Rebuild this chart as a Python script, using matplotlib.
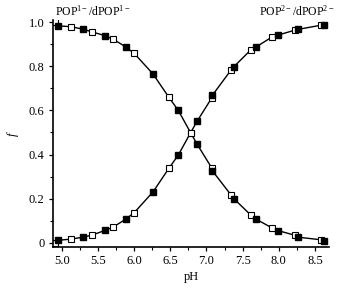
import numpy as np
import matplotlib
matplotlib.use('Agg')
import matplotlib.pyplot as plt
from matplotlib.ticker import MultipleLocator, FuncFormatter

plt.rcParams['font.family'] = ['Liberation Serif', 'DejaVu Serif']
plt.rcParams['mathtext.fontset'] = 'custom'
plt.rcParams['mathtext.rm'] = 'Liberation Serif'
plt.rcParams['mathtext.it'] = 'Liberation Serif:italic'

# filled squares (POP)
pop_ph = [4.94, 5.29, 5.60, 5.88, 6.26, 6.61, 6.87, 7.08, 7.38, 7.69, 7.99, 8.27, 8.63]
pop_1 = [0.983, 0.968, 0.938, 0.888, 0.765, 0.600, 0.447, 0.327, 0.200, 0.107, 0.056, 0.026, 0.011]
pop_2 = [0.012, 0.026, 0.057, 0.107, 0.231, 0.398, 0.551, 0.668, 0.798, 0.888, 0.941, 0.967, 0.986]

# open squares (dPOP)
dpop_ph = [4.90, 5.12, 5.41, 5.71, 6.00, 6.48, 6.78, 7.07, 7.34, 7.61, 7.90, 8.23, 8.59]
dpop_1 = [1.0, 0.979, 0.956, 0.922, 0.858, 0.659, 0.499, 0.341, 0.217, 0.127, 0.069, 0.034, 0.014]
dpop_2 = [0.0, 0.017, 0.035, 0.072, 0.137, 0.338, 0.499, 0.655, 0.783, 0.873, 0.931, 0.964, 0.986]

fig = plt.figure(figsize=(3.44, 2.95), dpi=100)
ax = fig.add_axes([0.154, 0.163, 0.802, 0.769])

# connecting curves through both data sets
for a, b in [(pop_1, dpop_1), (pop_2, dpop_2)]:
    xs = np.array(pop_ph + dpop_ph[1:])
    ys = np.array(a + b[1:])
    order = np.argsort(xs)
    ax.plot(xs[order], ys[order], color='black', lw=1.0, zorder=1)

ms = 4.2
for ys in (pop_1, pop_2):
    ax.plot(pop_ph, ys, 's', color='black', ms=ms, zorder=3)
for ys in (dpop_1, dpop_2):
    ax.plot(dpop_ph, ys, 's', mfc='white', mec='black', mew=0.8, ms=ms, zorder=2)

ax.set_xlim(4.876, 8.693)
ax.set_ylim(-0.018, 1.009)
ax.xaxis.set_major_locator(MultipleLocator(0.5))
ax.xaxis.set_minor_locator(MultipleLocator(0.25))
ax.yaxis.set_major_locator(MultipleLocator(0.2))
ax.yaxis.set_minor_locator(MultipleLocator(0.1))
ax.yaxis.set_major_formatter(FuncFormatter(lambda v, p: '0' if abs(v) < 1e-9 else '%.1f' % v))

for s in ['top', 'right']:
    ax.spines[s].set_visible(False)
for s in ['left', 'bottom']:
    ax.spines[s].set_linewidth(1.2)
ax.tick_params(which='major', direction='out', length=3, width=0.9, labelsize=9, pad=3)
ax.tick_params(which='minor', direction='out', length=2, width=0.8)

ax.set_xlabel('pH', fontsize=9, labelpad=3)
ax.set_ylabel('$f$', fontsize=9, labelpad=6)

fig.text(93 / 344, 1 - 11 / 295, 'POP$^{1-}$/dPOP$^{1-}$', fontsize=8.5, ha='center', va='center')
fig.text(297 / 344, 1 - 11 / 295, 'POP$^{2-}$/dPOP$^{2-}$', fontsize=8.5, ha='center', va='center')

fig.savefig('out.png', dpi=100)
